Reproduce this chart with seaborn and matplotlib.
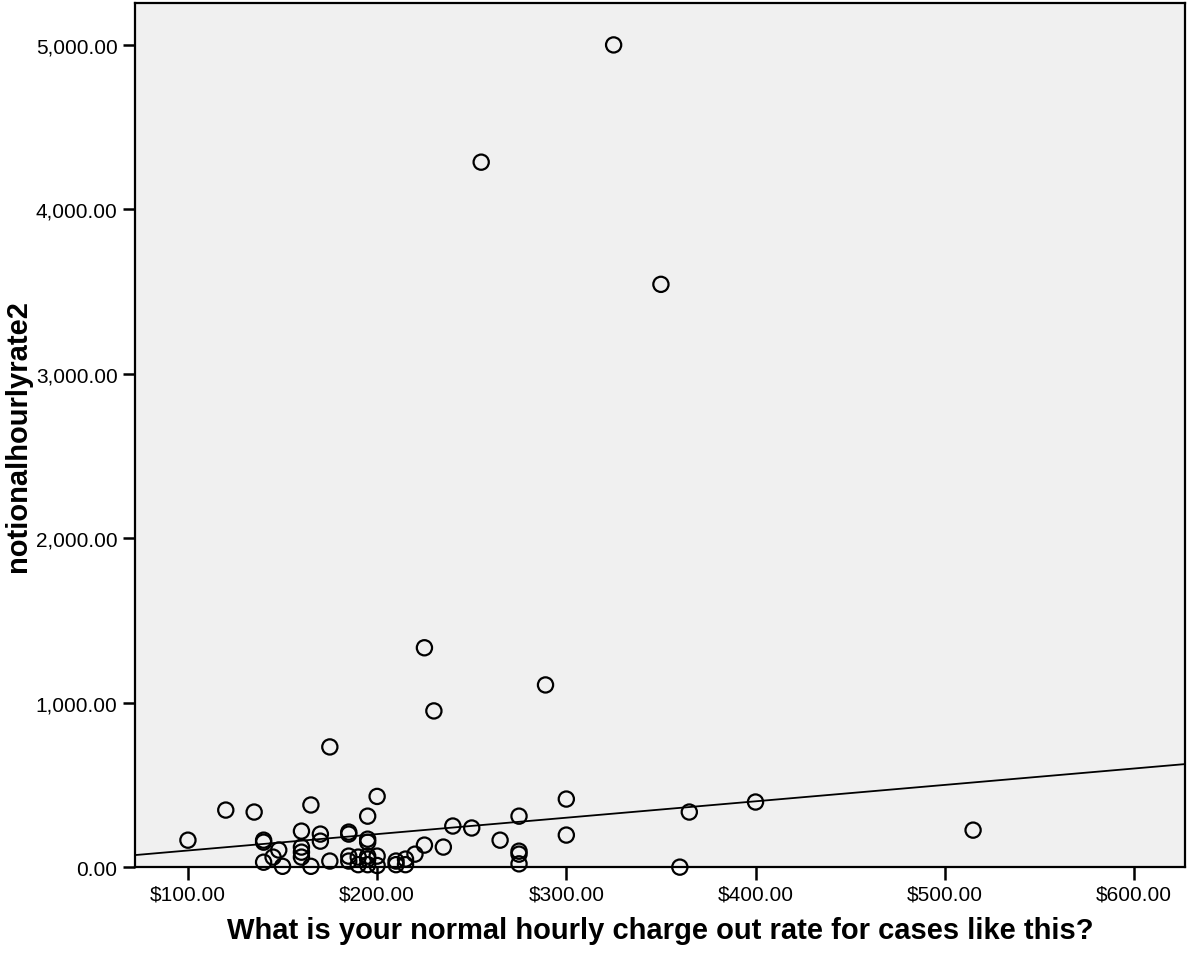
import numpy as np
import pandas as pd
import matplotlib
matplotlib.use("Agg")
import matplotlib.pyplot as plt
import matplotlib.ticker as mticker
import seaborn as sns

# data
charge_rate = [325, 255, 350, 225, 289, 230, 175,
               100, 120, 135, 165, 140, 140, 148, 145, 140, 150,
               160, 160, 160, 160, 165, 170, 170, 175,
               185, 185, 185, 185, 190, 200, 195, 195, 195, 195, 195,
               200, 200, 190, 195, 210, 210, 215, 215, 220, 225, 235,
               240, 250, 265, 275, 275, 275, 275, 300, 300,
               360, 365, 400, 515]
notional_rate = [5000, 4287, 3544, 1334, 1108, 950, 731,
                 164, 347, 335, 378, 164, 152, 104, 61, 30, 5,
                 219, 122, 91, 61, 5, 201, 158, 37,
                 213, 201, 67, 37, 61, 430, 310, 170, 152, 67, 49,
                 67, 10, 15, 15, 37, 15, 49, 15, 79, 134, 122,
                 250, 238, 164, 310, 97, 79, 20, 414, 195,
                 0, 335, 396, 225]

fit_intercept = 1.5
fit_slope = 0.997

df = pd.DataFrame({"charge_rate": charge_rate, "notional_rate": notional_rate})

sns.set_style("ticks")
plt.rcParams['font.family'] = ['Liberation Sans', 'DejaVu Sans']
plt.rcParams['text.color'] = 'black'
plt.rcParams['axes.labelcolor'] = 'black'

fig = plt.figure(figsize=(11.87, 9.54), dpi=100)
ax = fig.add_axes([0.1137, 0.090, 0.8846, 0.906])
ax.set_facecolor("#F0F0F0")

sns.scatterplot(x="charge_rate", y="notional_rate", data=df, ax=ax,
                s=120, facecolors="none", edgecolor="black", linewidth=1.6,
                clip_on=False, zorder=3)
ax.axline((0, fit_intercept), slope=fit_slope, color="black", lw=1.3, zorder=2)

ax.set_xlim(72, 627)
ax.set_ylim(0, 5256)
ax.set_xticks([100, 200, 300, 400, 500, 600])
ax.set_yticks([0, 1000, 2000, 3000, 4000, 5000])
ax.xaxis.set_major_formatter(mticker.FuncFormatter(lambda v, p: f"${v:,.2f}"))
ax.yaxis.set_major_formatter(mticker.FuncFormatter(lambda v, p: f"{v:,.2f}"))
ax.tick_params(axis="both", labelsize=15, length=9, width=1.8, pad=3.5,
               color="black", labelcolor="black", direction="out")

for s in ax.spines.values():
    s.set_visible(True)
    s.set_color("black")
    s.set_linewidth(1.6)

ax.set_xlabel("What is your normal hourly charge out rate for cases like this?",
              fontsize=21, fontweight="bold", labelpad=9)
ax.set_ylabel("notionalhourlyrate2", fontsize=21, fontweight="bold", labelpad=3)

fig.savefig("out.png", dpi=100)
